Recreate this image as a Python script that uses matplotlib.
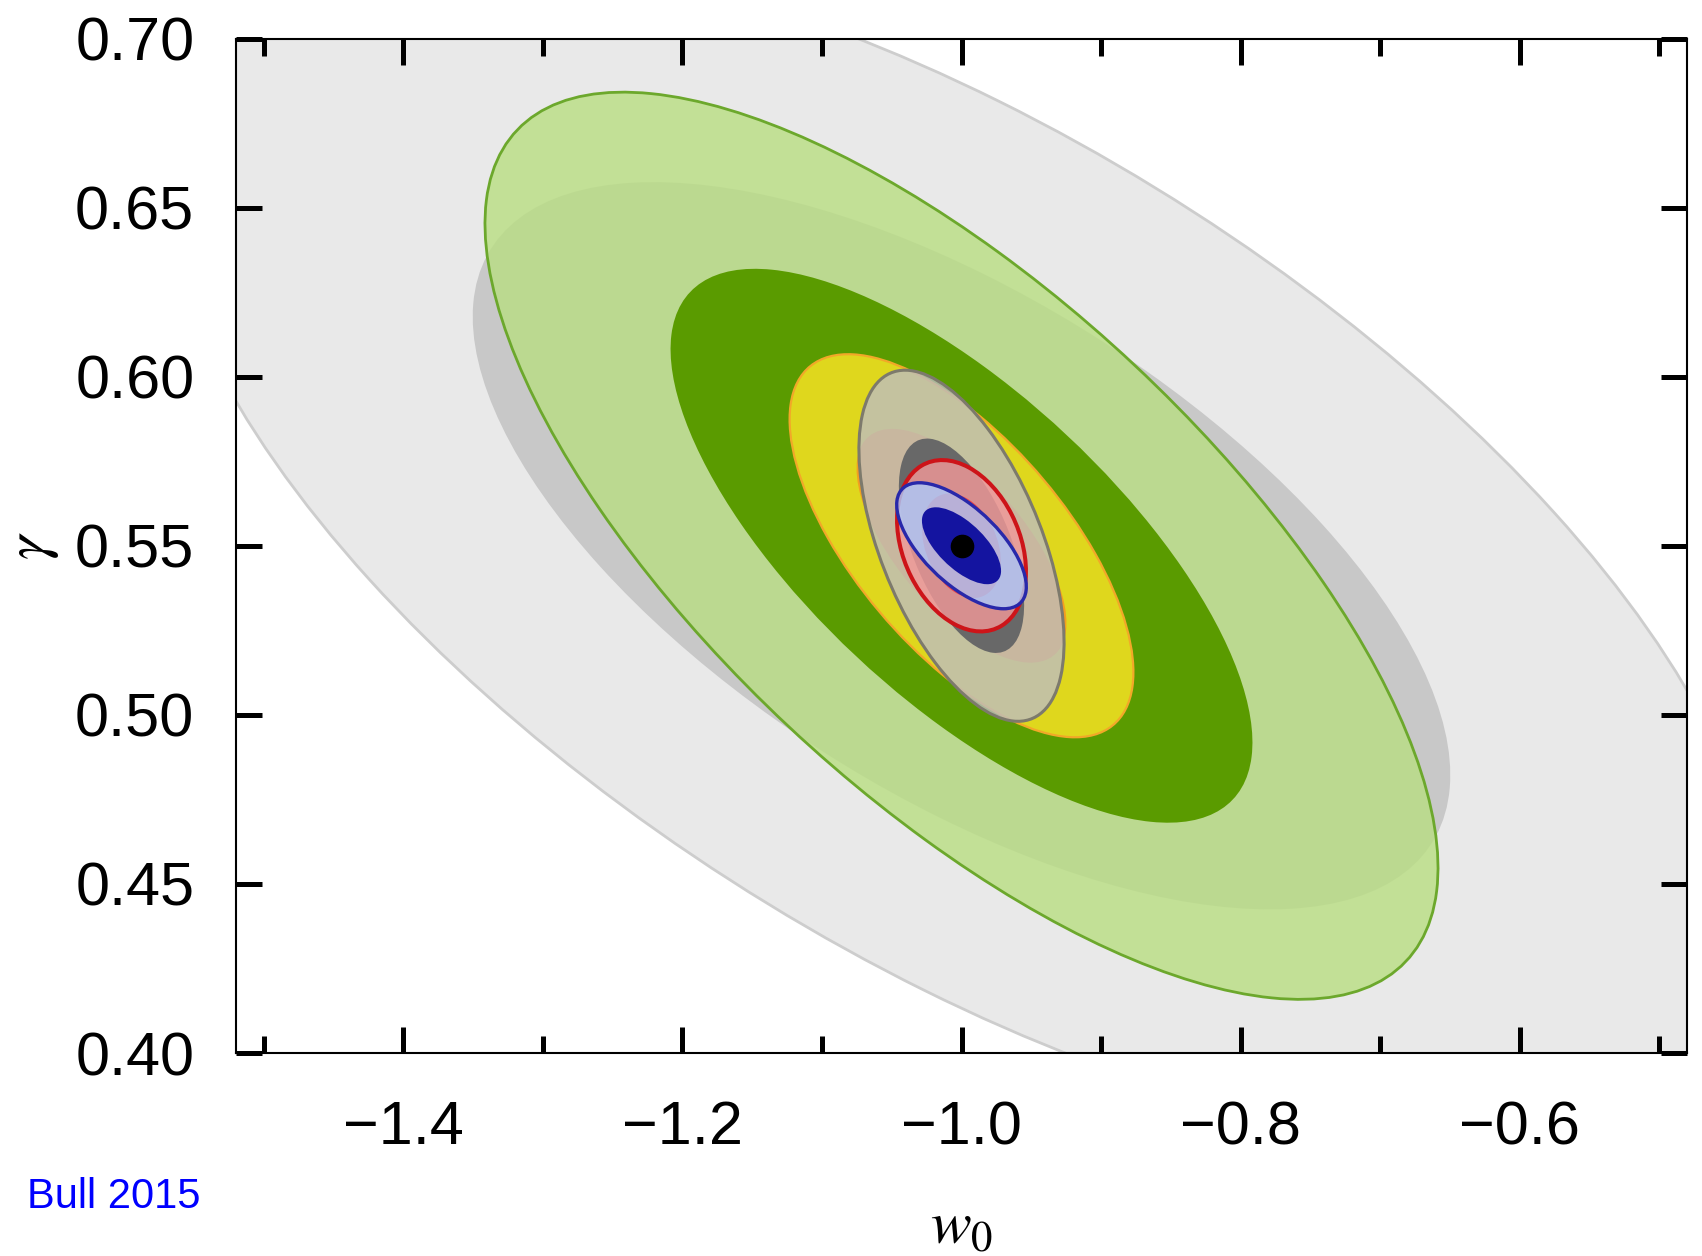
import numpy as np
import matplotlib.pyplot as plt
from matplotlib.patches import Ellipse

plt.rcParams['font.family'] = ['Liberation Sans', 'DejaVu Sans']
plt.rcParams['mathtext.fontset'] = 'stix'

# fiducial model
w0_fid = -1.0
gamma_fid = 0.55

# marginal 1-sigma errors and correlation coefficient, one entry per forecast
# (listed back to front in drawing order)
sig_w0 = [0.231, 0.1375, 0.0496, 0.0296, 0.0186, 0.0187]
sig_gamma = [0.0709, 0.0540, 0.0228, 0.0209, 0.0102, 0.0075]
rho = [-0.63, -0.71, -0.66, -0.55, -0.30, -0.65]

# delta chi^2 for the 95% and 68% regions of a 2-parameter fit
dchi2_95 = 6.17
dchi2_68 = 2.30

x_major = [-1.4, -1.2, -1.0, -0.8, -0.6]
x_minor = [-1.5, -1.3, -1.1, -0.9, -0.7, -0.5]
x_labels = ['\u22121.4', '\u22121.2', '\u22121.0', '\u22120.8', '\u22120.6']
y_major = [0.40, 0.45, 0.50, 0.55, 0.60, 0.65, 0.70]
y_labels = ['0.40', '0.45', '0.50', '0.55', '0.60', '0.65', '0.70']


def rgb(r, g, b, a=1.0):
    return (r / 255, g / 255, b / 255, a)


fill_95 = [rgb(233, 233, 233), rgb(185, 222, 131, 0.81), rgb(255, 230, 37, 0.81),
           rgb(190, 190, 190, 0.81), rgb(242, 153, 153, 0.81), rgb(172, 201, 250, 0.81)]
edge_95 = [rgb(205, 205, 205), rgb(108, 168, 44), rgb(242, 168, 40),
           rgb(125, 122, 108), rgb(205, 20, 25), rgb(40, 40, 170)]
lw_95 = [2.0, 2.0, 1.6, 2.2, 2.9, 2.4]
fill_68 = [rgb(200, 200, 200), rgb(90, 155, 0), rgb(243, 158, 32),
           rgb(104, 104, 104), rgb(237, 70, 71), rgb(20, 20, 160)]


def cov_ellipse(sx, sy, r, dchi2, **kw):
    cov = np.array([[sx**2, r * sx * sy], [r * sx * sy, sy**2]])
    vals, vecs = np.linalg.eigh(cov)
    k = np.sqrt(dchi2)
    ang = np.degrees(np.arctan2(vecs[1, 1], vecs[0, 1]))
    return Ellipse((w0_fid, gamma_fid), 2 * k * np.sqrt(vals[1]),
                   2 * k * np.sqrt(vals[0]), angle=ang, **kw)


fig = plt.figure(figsize=(17.02, 12.56), dpi=100)
ax = fig.add_axes([236 / 1702, 1 - 1053 / 1256, 1451 / 1702, 1014.5 / 1256])

for i in range(len(sig_w0)):
    ax.add_patch(cov_ellipse(sig_w0[i], sig_gamma[i], rho[i], dchi2_95,
                             facecolor=fill_95[i], edgecolor=edge_95[i], lw=lw_95[i]))
    ax.add_patch(cov_ellipse(sig_w0[i], sig_gamma[i], rho[i], dchi2_68,
                             facecolor=fill_68[i], edgecolor='none'))

ax.plot([w0_fid], [gamma_fid], 'o', color='black', ms=16)

ax.set_xlim(-1.52, -0.48)
ax.set_ylim(0.40, 0.70)
ax.set_xticks(x_major)
ax.set_xticks(x_minor, minor=True)
ax.set_xticklabels(x_labels)
ax.set_yticks(y_major)
ax.set_yticklabels(y_labels)

ax.tick_params(which='both', direction='in', top=True, right=True, width=3.6,
               labelsize=44)
ax.tick_params(which='major', length=18.7)
ax.tick_params(which='minor', length=12)
ax.tick_params(axis='x', pad=34)
ax.tick_params(axis='y', pad=30)
for sp in ax.spines.values():
    sp.set_linewidth(1.5)

ax.set_xlabel(r'$w_0$', fontsize=44)
ax.xaxis.label.set_va('center')
ax.xaxis.set_label_coords(0.5, -0.172)
ax.set_ylabel(r'$\gamma$', fontsize=44)
ax.yaxis.label.set_va('center')
ax.yaxis.set_label_coords(-0.14, 0.5)

fig.text(27 / 1702, 1 - 1197 / 1256, 'Bull 2015', color='blue', fontsize=30,
         ha='left', va='center')

fig.savefig('out.png', dpi=100)
